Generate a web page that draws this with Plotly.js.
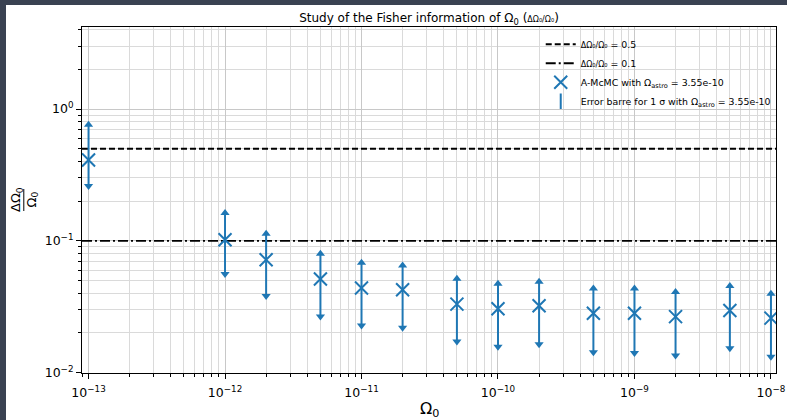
<!DOCTYPE html>
<html>
<head>
<meta charset="utf-8">
<script src="https://cdn.plot.ly/plotly-3.0.1.min.js"></script>
<style>
  html, body { margin: 0; padding: 0; background: #3a4252; width: 787px; height: 420px; overflow: hidden; }
  #chart { position: absolute; left: 6px; top: 5px; width: 781px; height: 415px; background: #fff; }
</style>
</head>
<body>
<div id="chart"></div>
<script>
// ---- data ----
const omega0 = [1e-13, 1e-12, 2e-12, 5e-12, 1e-11, 2e-11, 5e-11, 1e-10, 2e-10, 5e-10, 1e-9, 2e-9, 5e-9, 1e-8];
const relError = [0.411, 0.102, 0.0718, 0.0513, 0.0438, 0.0425, 0.0331, 0.0305, 0.0322, 0.0282, 0.0282, 0.0266, 0.0296, 0.0259];
const upper1Sigma = [0.76, 0.163, 0.113, 0.0797, 0.0681, 0.065, 0.0515, 0.0472, 0.0489, 0.0435, 0.0435, 0.0409, 0.0454, 0.0397];
const lower1Sigma = [0.261, 0.056, 0.0382, 0.0266, 0.0228, 0.0219, 0.0172, 0.0157, 0.0164, 0.0143, 0.0141, 0.0135, 0.0153, 0.0132];
const thresholds = [0.5, 0.1];
const thresholdNames = ['<span style="font-size:8px">ΔΩ₀/Ω₀</span> = 0.5', '<span style="font-size:8px">ΔΩ₀/Ω₀</span> = 0.1'];
const xTickVals = [1e-13, 1e-12, 1e-11, 1e-10, 1e-9, 1e-8];
const xTickText = ['10<sup>−13</sup>', '10<sup>−12</sup>', '10<sup>−11</sup>', '10<sup>−10</sup>', '10<sup>−9</sup>', '10<sup>−8</sup>'];
const yTickVals = [1, 0.1, 0.01];
const yTickText = ['10<sup>0</sup>', '10<sup>−1</sup>', '10<sup>−2</sup>'];

// ---- styling ----
const blue = '#1f77b4';
const xRange = [-13.048, -7.963];
const yRange = [-2.003, 0.623];
const font = 'DejaVu Sans, sans-serif';

function minorTicks(lo, hi) {
  const v = [];
  for (let e = lo; e <= hi; e++) for (let d = 2; d <= 9; d++) v.push(d * Math.pow(10, e));
  return v;
}

const errPlus = relError.map((v, i) => upper1Sigma[i] - v);
const errMinus = relError.map((v, i) => v - lower1Sigma[i]);
const xEdges = [Math.pow(10, xRange[0]), Math.pow(10, xRange[1])];

const traces = [];
const dashes = ['6px,3px', '10px,3px,2px,3px'];
thresholds.forEach((t, i) => {
  traces.push({
    x: xEdges, y: [t, t], mode: 'lines', name: thresholdNames[i],
    line: { color: 'black', width: 1.8, dash: dashes[i] },
    legendrank: i + 1, hoverinfo: 'skip'
  });
});
// error bars
traces.push({
  x: omega0, y: relError, mode: 'markers', showlegend: false,
  marker: { size: 0.1, color: blue },
  error_y: { type: 'data', symmetric: false, array: errPlus, arrayminus: errMinus, width: 0, thickness: 2, color: blue }
});
traces.push({
  x: omega0, y: upper1Sigma, mode: 'markers', showlegend: false,
  marker: { symbol: 'triangle-up', size: 8, color: blue }
});
traces.push({
  x: omega0, y: lower1Sigma, mode: 'markers', showlegend: false,
  marker: { symbol: 'triangle-down', size: 8, color: blue }
});
traces.push({
  x: omega0, y: relError, mode: 'markers', name: 'A-McMC with Ω<sub>astro</sub> = 3.55e-10',
  marker: { symbol: 'x-thin', size: 13, color: blue, line: { color: blue, width: 2 } },
  legendrank: 3
});
traces.push({
  x: [null], y: [null], mode: 'markers', name: 'Error barre for 1 σ with Ω<sub>astro</sub> = 3.55e-10',
  marker: { symbol: 'line-ns-open', size: 11, color: blue, line: { color: blue, width: 2 } },
  legendrank: 4
});

const gridMajor = '#c8c8c8';
const gridMinor = '#dadada';

const layout = {
  width: 781, height: 415,
  margin: { l: 75.7, r: 11, t: 21.7, b: 47, autoexpand: false },
  paper_bgcolor: 'white', plot_bgcolor: 'white',
  font: { family: font, color: '#000', size: 12 },
  title: {
    text: 'Study of the Fisher information of Ω<sub>0</sub> (<span style="font-size:8px">ΔΩ₀/Ω₀</span>)',
    font: { family: font, size: 12, color: '#000' },
    x: 0.5, xref: 'paper', xanchor: 'center', y: 1 - 13 / 415, yanchor: 'middle'
  },
  showlegend: true,
  legend: {
    x: 0.661, y: 0.992, xanchor: 'left', yanchor: 'top',
    bgcolor: 'rgba(255,255,255,0)', borderwidth: 0,
    font: { family: font, size: 9.4, color: '#000' },
    tracegroupgap: 0
  },
  xaxis: {
    type: 'log', range: xRange, tickmode: 'array', tickvals: xTickVals, ticktext: xTickText,
    ticks: 'outside', ticklen: 5, tickwidth: 1, tickcolor: '#000', ticklabelstandoff: 3,
    showline: true, linecolor: '#000', linewidth: 1, mirror: true,
    showgrid: true, gridcolor: gridMajor, gridwidth: 1, zeroline: false, automargin: false,
    tickfont: { family: font, size: 12.5, color: '#000' },
    minor: { tickmode: 'array', tickvals: minorTicks(-14, -8), ticks: 'outside', ticklen: 3, tickcolor: '#000', showgrid: true, gridcolor: gridMinor, gridwidth: 1 }
  },
  yaxis: {
    type: 'log', range: yRange, tickmode: 'array', tickvals: yTickVals, ticktext: yTickText,
    ticks: 'outside', ticklen: 5, tickwidth: 1, tickcolor: '#000',
    showline: true, linecolor: '#000', linewidth: 1, mirror: true,
    showgrid: true, gridcolor: gridMajor, gridwidth: 1, zeroline: false, automargin: false,
    tickfont: { family: font, size: 12.5, color: '#000' },
    minor: { tickmode: 'array', tickvals: minorTicks(-3, 0), ticks: 'outside', ticklen: 3, tickcolor: '#000', showgrid: true, gridcolor: gridMinor, gridwidth: 1 }
  },
  annotations: [
    { text: 'Ω<sub>0</sub>', xref: 'paper', yref: 'paper', x: 0.5, y: 0, yshift: -36, xanchor: 'center', yanchor: 'middle', showarrow: false, font: { family: font, size: 16, color: '#000' } },
    { text: 'ΔΩ<sub>0</sub>', xref: 'paper', yref: 'paper', x: 0, y: 0.5, xshift: -66, xanchor: 'center', yanchor: 'middle', textangle: -90, showarrow: false, font: { family: font, size: 13, color: '#000' } },
    { text: 'Ω<sub>0</sub>', xref: 'paper', yref: 'paper', x: 0, y: 0.5, xshift: -50.5, xanchor: 'center', yanchor: 'middle', textangle: -90, showarrow: false, font: { family: font, size: 13, color: '#000' } }
  ],
  shapes: [
    { type: 'line', xref: 'paper', yref: 'paper', xsizemode: 'pixel', ysizemode: 'pixel', xanchor: 0, yanchor: 0.5, x0: -58.2, x1: -58.2, y0: -11, y1: 11, line: { color: '#000', width: 1 } }
  ]
};

Plotly.newPlot('chart', traces, layout, { displayModeBar: false, staticPlot: true });
</script>
</body>
</html>
